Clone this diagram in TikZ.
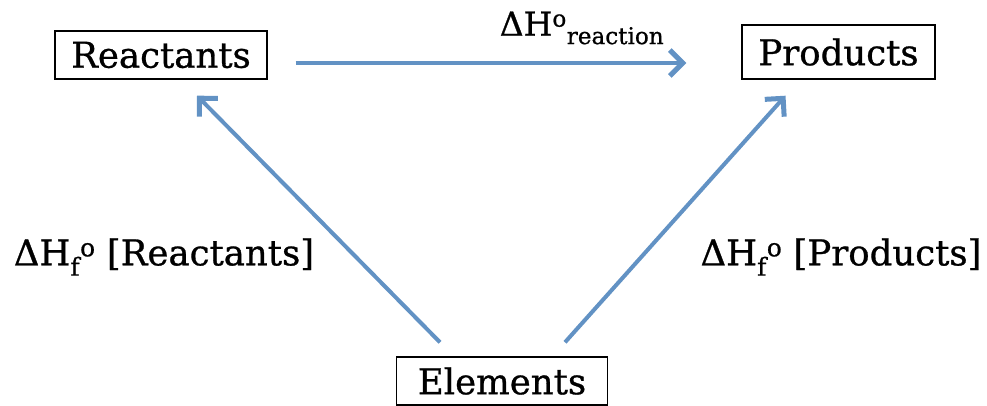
\documentclass[tikz,border=0pt]{standalone}
\usepackage{fontspec}
\setmainfont{DejaVu Serif}
\newfontfamily\slabfont{DejaVu Serif}[FakeBold=0.8]
\usetikzlibrary{arrows.meta,calc}
\definecolor{arrowblue}{RGB}{98,146,196}
\tikzset{
  x=1pt,y=-1pt,
  box/.style={draw=black,line width=1.4pt,inner sep=0pt,font=\slabfont\fontsize{35.5}{40}\selectfont},
  lbl/.style={inner sep=0pt,font=\slabfont\fontsize{35.5}{40}\selectfont},
  arr/.style={draw=arrowblue,line width=4pt,
    -{Straight Barb[length=13pt,width=26pt,line width=5pt]}},
}
\begin{document}
\begin{tikzpicture}
\useasboundingbox (0,0) rectangle (987,406);
% species boxes
\node[box,minimum width=212pt,minimum height=48pt] (R) at (161,55) {Reactants};
\node[box,minimum width=193pt,minimum height=54pt] (P) at (838.5,52) {Products};
\node[box,minimum width=211pt,minimum height=48pt] (E) at (502,381) {Elements};
% arrow end points next to the boxes
\coordinate (rs) at ($(R.east)+(28,8)$);
\coordinate (pe) at ($(P.west)+(-55,11)$);
\coordinate (el) at ($(E.north)+(-62,-14)$);
\coordinate (rt) at ($(R.south)+(36,16)$);
\coordinate (er) at ($(E.north)+(63,-14)$);
\coordinate (pt) at ($(P.south)+(-53,16)$);
% enthalpy paths
\draw[arr] (rs) -- (pe);
\draw[arr] (el) -- (rt);
\draw[arr] (er) -- (pt);
% labels
\node[lbl,font=\slabfont\fontsize{33}{38}\selectfont] (hr) at (582,28) {ΔH\textsuperscript{o}\textsubscript{reaction}};
\node[lbl] (hfr) at (164,257) {ΔH\textsubscript{f}\textsuperscript{o} [Reactants]};
\node[lbl] (hfp) at (841,257) {ΔH\textsubscript{f}\textsuperscript{o} [Products]};
\end{tikzpicture}
\end{document}
